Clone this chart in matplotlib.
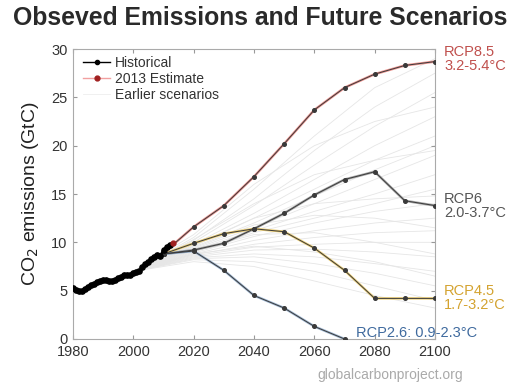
import numpy as np
import matplotlib.pyplot as plt

plt.rcParams['font.family'] = ['Liberation Sans', 'DejaVu Sans']

# Observed fossil emissions (GtC/yr)
hist_years = list(range(1980, 2013))
hist_vals = [5.3, 5.1, 5.0, 5.0, 5.2, 5.4, 5.6, 5.7, 5.9, 6.0, 6.1, 6.1, 6.0,
             6.0, 6.1, 6.3, 6.4, 6.6, 6.6, 6.6, 6.8, 6.9, 7.0, 7.4, 7.8, 8.0,
             8.3, 8.5, 8.7, 8.6, 9.2, 9.5, 9.7]
est_year = 2013
est_val = 9.9

# RCP pathways
rcp85_years = [2010, 2020, 2030, 2040, 2050, 2060, 2070, 2080, 2090, 2100]
rcp85_vals = [8.9, 11.6, 13.8, 16.8, 20.2, 23.7, 26.0, 27.4, 28.3, 28.7]
rcp6_years = [2010, 2020, 2030, 2040, 2050, 2060, 2070, 2080, 2090, 2100]
rcp6_vals = [8.8, 9.2, 9.9, 11.4, 13.0, 14.9, 16.5, 17.3, 14.3, 13.8]
rcp45_years = [2010, 2020, 2030, 2040, 2050, 2060, 2070, 2080, 2090, 2100]
rcp45_vals = [8.8, 9.9, 10.9, 11.4, 11.1, 9.4, 7.1, 4.2, 4.2, 4.2]
rcp26_years = [2010, 2020, 2030, 2040, 2050, 2060, 2070]
rcp26_vals = [8.8, 9.1, 7.1, 4.5, 3.2, 1.3, 0.0]

# Earlier (SRES-era) scenarios
old_years = [2000, 2020, 2040, 2060, 2080, 2100]
old_runs = [
    [7.0, 10.5, 15.5, 21.0, 26.0, 29.0],
    [7.0, 10.2, 14.5, 19.5, 24.0, 27.5],
    [7.0, 10.0, 13.8, 18.0, 22.0, 25.5],
    [7.0, 9.8, 13.0, 16.5, 20.0, 23.0],
    [7.0, 9.6, 12.5, 15.5, 18.5, 21.0],
    [7.0, 9.5, 12.0, 14.8, 17.5, 20.0],
    [7.0, 9.3, 11.5, 14.0, 16.5, 19.0],
    [7.0, 9.2, 11.2, 13.2, 15.0, 17.0],
    [7.0, 9.0, 11.0, 12.5, 14.0, 15.5],
    [7.0, 8.9, 10.6, 12.0, 13.2, 14.0],
    [7.0, 8.8, 10.2, 11.2, 12.0, 12.5],
    [7.0, 8.7, 9.8, 10.5, 11.0, 11.2],
    [7.0, 8.6, 9.5, 9.8, 10.0, 10.0],
    [7.0, 8.5, 9.2, 9.3, 9.0, 8.5],
    [7.0, 8.4, 8.8, 8.5, 7.8, 7.0],
    [7.0, 8.3, 8.5, 7.8, 6.8, 5.5],
    [7.0, 8.2, 8.0, 7.0, 5.5, 4.0],
    [7.0, 8.0, 7.5, 6.0, 4.5, 3.2],
    [7.0, 10.8, 16.0, 20.0, 22.5, 24.0],
    [7.0, 10.3, 14.0, 17.0, 18.5, 19.5],
    [7.0, 9.7, 12.5, 14.0, 14.5, 14.8],
    [7.0, 9.4, 11.8, 12.8, 12.5, 11.5],
    [7.0, 9.1, 10.8, 11.0, 10.0, 8.8],
    [7.0, 8.8, 9.6, 9.0, 8.0, 6.5],
]

fig = plt.figure(figsize=(5.13, 3.85), dpi=100)
ax = fig.add_axes([0.1423, 0.1195, 0.7057, 0.7532])

for run in old_runs:
    ax.plot(old_years, run, color='#e6e6e6', lw=0.6, zorder=1)

# colored band under a thin dark line with markers
def rcp(years, vals, col):
    ax.plot(years, vals, color=col, lw=1.8, alpha=0.75, zorder=2, solid_capstyle='butt')
    ax.plot(years, vals, color='#3a3a3a', lw=0.7, marker='o', ms=2.6, zorder=3)

rcp(rcp85_years, rcp85_vals, '#e8706a')
rcp(rcp6_years, rcp6_vals, '#8a8a8a')
rcp(rcp45_years, rcp45_vals, '#e8c04a')
rcp(rcp26_years, rcp26_vals, '#7f9fc4')

ax.plot(hist_years, hist_vals, color='black', lw=2.0, marker='o', ms=3.8, zorder=4,
        label='Historical')
ax.plot([est_year], [est_val], color='#f2a0a0', lw=1.0, marker='o', ms=3.5,
        mfc='#a02020', mec='#a02020', zorder=5, label='2013 Estimate')
ax.plot([], [], color='#eeeeee', lw=0.6, label='Earlier scenarios')

ax.set_xlim(1980, 2100)
ax.set_ylim(0, 30)
ax.set_xticks(np.arange(1980, 2101, 20))
ax.set_yticks(np.arange(0, 31, 5))
ax.tick_params(direction='in', length=3, labelsize=10.5, labelcolor='#333333',
               color='#999999', top=True, right=True, pad=4)
for s in ax.spines.values():
    s.set_color('#aaaaaa')
    s.set_linewidth(0.8)

ax.set_ylabel('CO$_2$ emissions (GtC)', fontsize=14, color='#222222', labelpad=7)

leg = ax.legend(loc='upper left', frameon=False, fontsize=10, handlelength=2.0,
                handletextpad=0.3, labelspacing=0.15, borderaxespad=0.3,
                bbox_to_anchor=(0.0, 1.01))
for t in leg.get_texts():
    t.set_color('#333333')
# thinner legend keys
leg.get_lines()[0].set_linewidth(1.0)
leg.get_lines()[0].set_markersize(3.0)

fig.text(0.508, 0.953, 'Obseved Emissions and Future Scenarios', ha='center', va='center',
         fontsize=17.8, fontweight='bold', color='#2a2a2a')

ax.text(2103, 29.0, 'RCP8.5\n3.2-5.4°C', color='#c0504d', fontsize=10.5,
        va='center', ha='left', linespacing=1.0)
ax.text(2103, 13.8, 'RCP6\n2.0-3.7°C', color='#555555', fontsize=10.5,
        va='center', ha='left', linespacing=1.0)
ax.text(2103, 4.2, 'RCP4.5\n1.7-3.2°C', color='#d4a330', fontsize=10.5,
        va='center', ha='left', linespacing=1.0)
ax.text(2114, 0.6, 'RCP2.6: 0.9-2.3°C', color='#3f6a9e', fontsize=10.5,
        va='center', ha='right')

fig.text(0.76, 0.025, 'globalcarbonproject.org', ha='center', va='center',
         fontsize=10, color='#aaaaaa')

ax.patch.set_alpha(0)
fig.savefig('out.png', dpi=100)
